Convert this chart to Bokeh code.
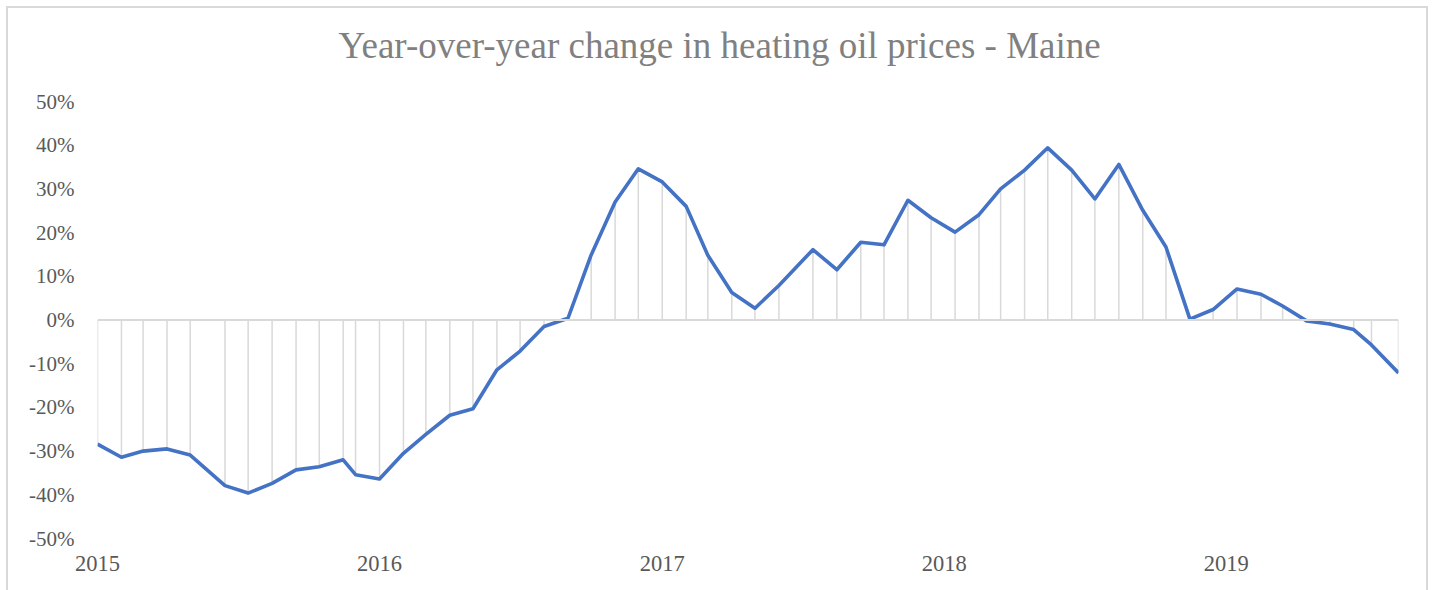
import pandas as pd
from bokeh.plotting import figure
from bokeh.models import Range1d, FixedTicker, PrintfTickFormatter, Span, ColumnDataSource, Title
from bokeh.embed import file_html
from bokeh.resources import INLINE

# ---- data ----
dates = [
    "2015-01-01", "2015-02-01", "2015-03-01", "2015-04-01", "2015-05-01", "2015-06-15",
    "2015-07-15", "2015-08-15", "2015-09-15", "2015-10-15", "2015-11-15", "2015-12-01",
    "2016-01-01", "2016-02-01", "2016-03-01", "2016-04-01", "2016-05-01", "2016-06-01",
    "2016-07-01", "2016-08-01", "2016-09-01", "2016-10-01", "2016-11-01", "2016-12-01",
    "2017-01-01", "2017-02-01", "2017-03-01", "2017-04-01", "2017-05-01", "2017-06-01",
    "2017-07-15", "2017-08-15", "2017-09-15", "2017-10-15", "2017-11-15", "2017-12-15",
    "2018-01-15", "2018-02-15", "2018-03-15", "2018-04-15", "2018-05-15", "2018-06-15",
    "2018-07-15", "2018-08-15", "2018-09-15", "2018-10-15", "2018-11-15", "2018-12-15",
    "2019-01-15", "2019-02-15", "2019-03-15", "2019-04-15", "2019-05-15", "2019-06-15",
    "2019-07-08", "2019-08-12",
]
yoy_change_pct = [
    -28.4, -31.4, -30.0, -29.5, -30.9, -37.9,
    -39.6, -37.4, -34.3, -33.6, -32.0, -35.4,
    -36.4, -30.5, -26.2, -21.8, -20.3, -11.4,
    -7.1, -1.5, 0.4, 14.9, 27.0, 34.6,
    31.6, 26.0, 14.8, 6.3, 2.7, 7.9,
    16.1, 11.5, 17.8, 17.2, 27.4, 23.4,
    20.1, 24.1, 30.0, 34.3, 39.4, 34.3,
    27.7, 35.6, 25.1, 16.7, 0.2, 2.4,
    7.1, 5.9, 3.2, -0.2, -0.9, -2.2,
    -5.7, -12.1,
]
x_tick_years = ["2015", "2016", "2017", "2018", "2019"]
y_ticks_pct = [-50, -40, -30, -20, -10, 0, 10, 20, 30, 40, 50]
title_text = "Year-over-year change in heating oil prices - Maine"

FONT = "Liberation Serif"

dt = pd.to_datetime(dates)
source = ColumnDataSource(dict(x=dt, y=yoy_change_pct, zero=[0] * len(dates)))

p = figure(
    width=1418, height=582,
    title=None,
    x_axis_type="datetime",
    output_backend="svg", toolbar_location=None,
    x_range=Range1d(dt[0], dt[-1]),
    y_range=Range1d(y_ticks_pct[0], y_ticks_pct[-1]),
    min_border_left=89, min_border_right=28, min_border_top=93, min_border_bottom=52,
)
p.margin = (8, 0, 0, 8)
p.styles = {"outline": "2px solid #d9d9d9"}
p.outline_line_color = None
p.xgrid.grid_line_color = None
p.ygrid.grid_line_color = None

# title: an invisible spacer next to the plot area, then the title text above it
p.add_layout(Title(text=" ", text_font_size="1px", standoff=33), "above")
p.add_layout(
    Title(
        text=title_text, align="left", offset=241, standoff=0,
        text_font=FONT, text_font_style="normal", text_font_size="37px",
        text_color="#808080",
    ),
    "above",
)

# drop lines from each point to zero
p.segment(x0="x", y0="zero", x1="x", y1="y", source=source, line_color="#d9d9d9", line_width=1.5)
# zero line
p.add_layout(Span(location=0, dimension="width", line_color="#d9d9d9", line_width=1.8))
# main line
p.line("x", "y", source=source, line_color="#4472C4", line_width=3.6, line_join="round")

# y axis
p.yaxis.ticker = FixedTicker(ticks=y_ticks_pct)
p.yaxis.formatter = PrintfTickFormatter(format="%d%%")
p.yaxis.axis_line_color = None
p.yaxis.major_tick_line_color = None
p.yaxis.minor_tick_line_color = None
p.yaxis.major_tick_out = 0
p.yaxis.major_label_standoff = 23
p.yaxis.major_label_text_font = FONT
p.yaxis.major_label_text_font_size = "21px"
p.yaxis.major_label_text_color = "#595959"

# x axis
x_tick_ms = [pd.Timestamp(f"{y}-01-01").value // 10**6 for y in x_tick_years]
p.xaxis.ticker = FixedTicker(ticks=x_tick_ms)
p.xaxis.major_label_overrides = {t: lab for t, lab in zip(x_tick_ms, x_tick_years)}
p.xaxis.axis_line_color = None
p.xaxis.major_tick_line_color = None
p.xaxis.minor_tick_line_color = None
p.xaxis.major_tick_out = 0
p.xaxis.major_label_standoff = 17
p.xaxis.major_label_text_font = FONT
p.xaxis.major_label_text_font_size = "22.5px"
p.xaxis.major_label_text_color = "#595959"

open("out.html", "w").write(file_html(p, INLINE))
